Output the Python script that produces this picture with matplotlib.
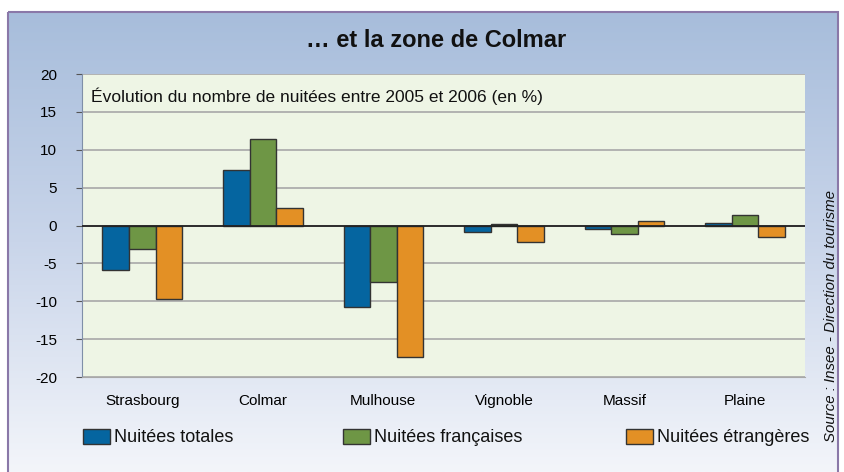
import numpy as np
import matplotlib
matplotlib.use('Agg')
import matplotlib.pyplot as plt
from matplotlib.colors import LinearSegmentedColormap
from matplotlib.patches import Rectangle

plt.rcParams['font.family'] = ['Liberation Sans', 'DejaVu Sans']

# data
zones = ['Strasbourg', 'Colmar', 'Mulhouse', 'Vignoble', 'Massif', 'Plaine']
totales = [-5.8, 7.3, -10.7, -0.9, -0.5, 0.3]
francaises = [-3.1, 11.4, -7.4, 0.2, -1.1, 1.4]
etrangeres = [-9.7, 2.3, -17.4, -2.1, 0.6, -1.5]
series_names = ['Nuitées totales', 'Nuitées françaises', 'Nuitées étrangères']
colors = ['#0565a0', '#6e9645', '#e39025']
yticks = [20, 15, 10, 5, 0, -5, -10, -15, -20]

fig = plt.figure(figsize=(8.45, 4.72), dpi=100)

# gradient background inside the frame
bg = fig.add_axes([0, 0, 1, 1], zorder=-10)
bg.set_xlim(0, 845)
bg.set_ylim(472, 0)
bg.axis('off')
cmap = LinearSegmentedColormap.from_list('bg', ['#a7bddb', '#c9d5ea', '#f3f5fa'])
grad = np.linspace(0, 1, 256).reshape(-1, 1)
bg.imshow(grad, cmap=cmap, extent=[8, 838, 472, 12], aspect='auto')
bg.add_patch(Rectangle((8, 12), 830, 470, fill=False, edgecolor='#8a78a8', linewidth=1.5))

ax = fig.add_axes([0.097, 0.201, 0.856, 0.642])
ax.set_facecolor('#eef5e5')

x = np.arange(len(zones))
w = 0.22
for i, (vals, c) in enumerate(zip([totales, francaises, etrangeres], colors)):
    ax.bar(x + (i - 1) * w, vals, width=w, color=c, edgecolor='#333333',
           linewidth=1.0, label=series_names[i], zorder=3)

ax.set_xlim(-0.5, len(zones) - 0.5)
ax.set_ylim(-20, 20)
ax.set_yticks(yticks)
ax.set_yticklabels([str(t) for t in yticks], fontsize=11)
ax.set_xticks(x)
ax.set_xticklabels(zones, fontsize=11)
ax.tick_params(axis='x', length=0, pad=12)
ax.tick_params(axis='y', length=4, direction='out', pad=14, color='#555555')
ax.grid(axis='y', color='#a8a8a8', linewidth=1.2, zorder=1)
ax.axhline(0, color='#222222', linewidth=1.3, zorder=4)
for s in ['top', 'right']:
    ax.spines[s].set_visible(False)
ax.spines['left'].set_color('#7f8fa8')
ax.spines['bottom'].set_color('#a8a8a8')

ax.text(0.012, 0.955, 'Évolution du nombre de nuitées entre 2005 et 2006 (en %)',
        transform=ax.transAxes, fontsize=12.5, va='top', ha='left', color='#111111')

fig.text(0.516, 0.915, '… et la zone de Colmar', fontsize=17, fontweight='bold',
         ha='center', va='center', color='#111111')

# legend laid out like the reference
leg_x = [83, 343, 626]
for lx, c, name in zip(leg_x, colors, series_names):
    bg.add_patch(Rectangle((lx, 429), 27, 15, facecolor=c, edgecolor='#333333', linewidth=1))
    bg.text(lx + 31, 437, name, fontsize=13, va='center', ha='left', color='#111111')

fig.text(0.984, 0.33, 'Source : Insee - Direction du tourisme', rotation=90,
         fontsize=10.8, style='italic', ha='center', va='center', color='#111111')

fig.savefig('out.png', dpi=100)
